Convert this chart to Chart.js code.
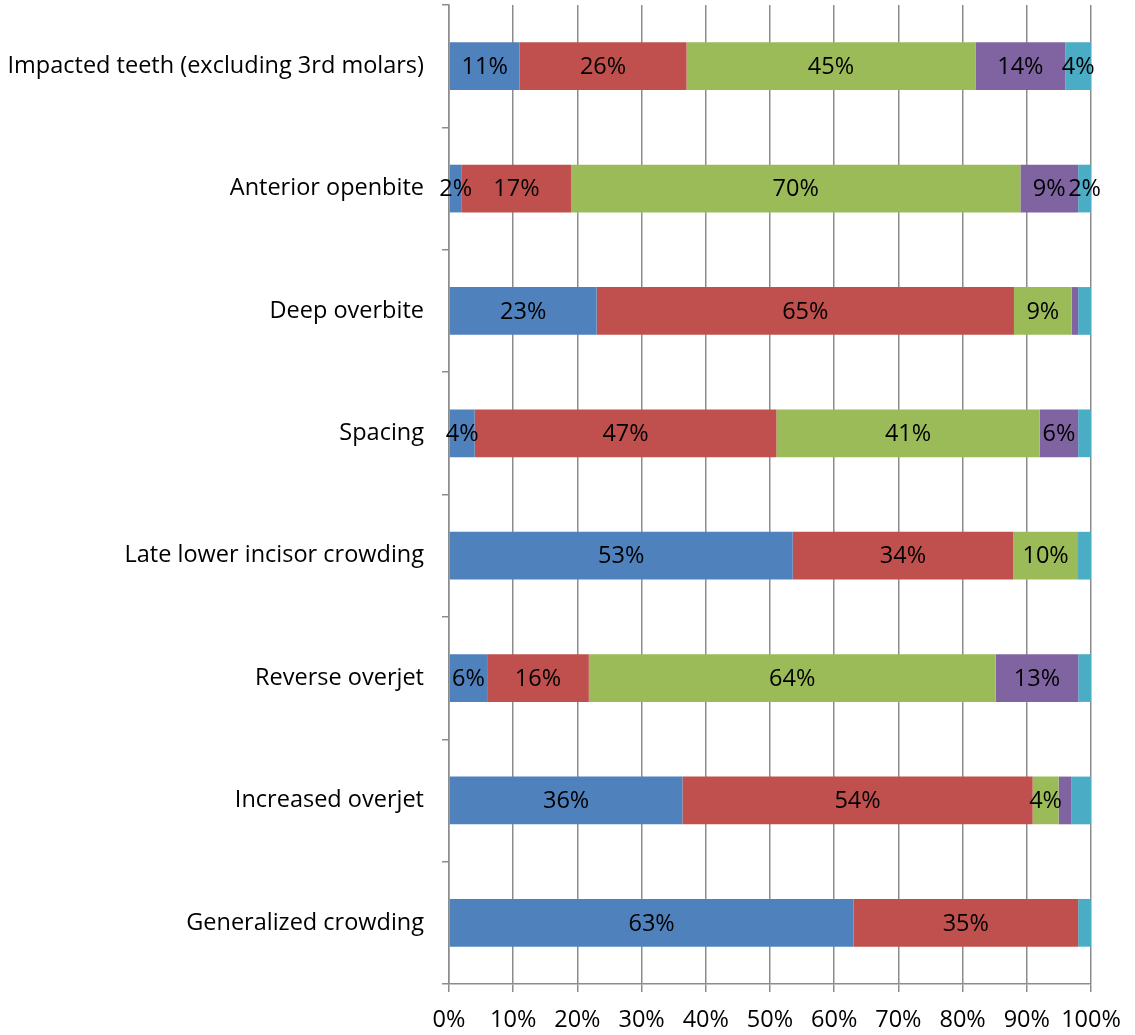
<!DOCTYPE html>
<html>
<head>
<meta charset="utf-8">
<script src="https://cdn.jsdelivr.net/npm/chart.js@4.4.1/dist/chart.umd.min.js"></script>
<style>
  html, body { margin: 0; padding: 0; background: #fff; }
  #wrap { width: 1135px; height: 1035px; position: relative; }
</style>
</head>
<body>
<div id="wrap"><canvas id="chart"></canvas></div>
<script>
// Categorias (de arriba hacia abajo)
const categories = [
    'Impacted teeth (excluding 3rd molars)',
    'Anterior openbite',
    'Deep overbite',
    'Spacing',
    'Late lower incisor crowding',
    'Reverse overjet',
    'Increased overjet',
    'Generalized crowding'
];

// Valores en % por serie
const series1 = [11, 2, 23, 4, 53, 6, 36, 63];
const series2 = [26, 17, 65, 47, 34, 16, 54, 35];
const series3 = [45, 70, 9, 41, 10, 64, 4, 0];
const series4 = [14, 9, 1, 6, 0, 13, 2, 0];
const series5 = [4, 2, 2, 2, 2, 2, 3, 2];

// Que etiquetas se muestran (1 = si)
const labels1 = [1, 1, 1, 1, 1, 1, 1, 1];
const labels2 = [1, 1, 1, 1, 1, 1, 1, 1];
const labels3 = [1, 1, 1, 1, 1, 1, 1, 0];
const labels4 = [1, 1, 0, 1, 0, 1, 0, 0];
const labels5 = [1, 1, 0, 0, 0, 0, 0, 0];

const xTicks = [0, 10, 20, 30, 40, 50, 60, 70, 80, 90, 100];

const allSeries = [series1, series2, series3, series4, series5];
const allLabels = [labels1, labels2, labels3, labels4, labels5];
const colors = ['#4F81BD', '#C0504D', '#9BBB59', '#8064A2', '#4BACC6'];

// Barras apiladas al 100%: cada fila se normaliza por su suma
const rowTotals = categories.map((c, i) => allSeries.reduce((s, arr) => s + arr[i], 0));

const datasets = allSeries.map((arr, k) => ({
    label: 'Serie ' + (k + 1),
    data: arr.map((v, i) => v / rowTotals[i] * 100),
    raw: arr,
    shown: allLabels[k],
    backgroundColor: colors[k],
    borderWidth: 0,
    barPercentage: 0.39,
    categoryPercentage: 1
}));

const FONT = '"Open Sans", sans-serif';
const FONT_SIZE = 23.5;

// Etiquetas de valor centradas en cada segmento
const valueLabels = {
    id: 'valueLabels',
    afterDatasetsDraw(chart) {
        const ctx = chart.ctx;
        ctx.save();
        ctx.font = FONT_SIZE + 'px ' + FONT;
        ctx.fillStyle = '#000';
        ctx.textAlign = 'center';
        ctx.textBaseline = 'middle';
        chart.data.datasets.forEach((ds, k) => {
            chart.getDatasetMeta(k).data.forEach((bar, i) => {
                if (!ds.shown[i] || ds.raw[i] === 0) return;
                ctx.fillText(ds.raw[i] + '%', (bar.x + bar.base) / 2, bar.y + 1);
            });
        });
        ctx.restore();
    }
};

new Chart(document.getElementById('chart'), {
    type: 'bar',
    data: { labels: categories, datasets: datasets },
    options: {
        indexAxis: 'y',
        responsive: true,
        maintainAspectRatio: false,
        animation: false,
        layout: { padding: { top: 5, right: 44, left: 0, bottom: 0 } },
        plugins: {
            legend: { display: false },
            tooltip: { enabled: false }
        },
        scales: {
            x: {
                stacked: true,
                min: 0,
                max: 100,
                afterBuildTicks: scale => { scale.ticks = xTicks.map(v => ({ value: v })); },
                ticks: {
                    color: '#000',
                    font: { family: FONT, size: FONT_SIZE },
                    padding: 14,
                    maxRotation: 0,
                    callback: v => v + '%'
                },
                grid: {
                    color: '#8c8c8c',
                    lineWidth: 1.5,
                    tickLength: 8,
                    drawTicks: true
                },
                border: { color: '#8c8c8c', width: 1.5 },
                afterFit: scale => {
                    scale.height = 51;
                    scale.paddingLeft = 0;
                    scale.paddingRight = 0;
                }
            },
            y: {
                stacked: true,
                offset: true,
                ticks: {
                    color: '#000',
                    font: { family: FONT, size: 23.5 },
                    padding: 18
                },
                grid: {
                    offset: true,
                    drawOnChartArea: false,
                    drawTicks: true,
                    tickLength: 7,
                    color: '#8c8c8c',
                    lineWidth: 1.5
                },
                border: { color: '#8c8c8c', width: 1.5 },
                afterFit: scale => {
                    scale.width = 449;
                    scale.paddingTop = 0;
                    scale.paddingBottom = 0;
                }
            }
        }
    },
    plugins: [valueLabels]
});
</script>
</body>
</html>
